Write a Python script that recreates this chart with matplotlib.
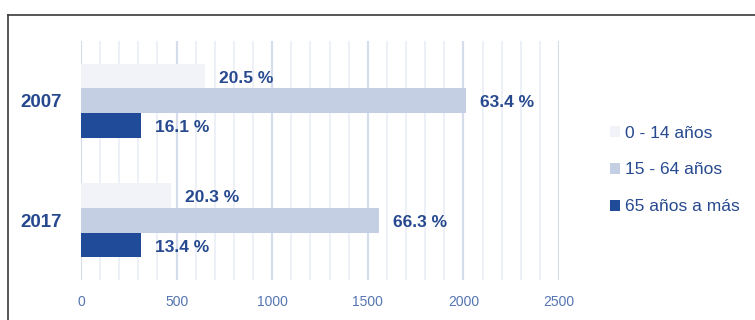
import matplotlib.pyplot as plt
from matplotlib.lines import Line2D
import numpy as np

# data
years = ["2007", "2017"]
series_names = ["0 - 14 años", "15 - 64 años", "65 años a más"]
vals_0_14 = [648, 471]
vals_15_64 = [2012, 1559]
vals_65 = [314, 314]
pct_0_14 = ["20.5 %", "20.3 %"]
pct_15_64 = ["63.4 %", "66.3 %"]
pct_65 = ["16.1 %", "13.4 %"]
xticks = [0, 500, 1000, 1500, 2000, 2500]

colors = ["#f1f3f8", "#c4cfe3", "#1f4b99"]
text_col = "#26498f"
tick_col = "#5575b2"

plt.rcParams['font.family'] = ['Liberation Sans', 'DejaVu Sans']

fig = plt.figure(figsize=(7.55, 3.2), dpi=100)
ax = fig.add_axes([81/755, 40/320, 478/755, 239/320])

# border of the box
fig.add_artist(Line2D([8/755, 8/755], [-0.1, 1-15/320], transform=fig.transFigure, color="#3a3a3a", lw=1.2))
fig.add_artist(Line2D([8/755, 1.1], [1-15/320, 1-15/320], transform=fig.transFigure, color="#3a3a3a", lw=1.2))

# grid every 100, stronger every 500
for g in range(0, 2501, 100):
    if g % 500 == 0:
        ax.axvline(g, color="#d5dcec", lw=1.6, zorder=0)
    else:
        ax.axvline(g, color="#eaedf5", lw=1.2, zorder=0)

y = np.arange(len(years))
h = 0.207
all_vals = [vals_0_14, vals_15_64, vals_65]
all_pct = [pct_0_14, pct_15_64, pct_65]
for i in range(3):
    pos = y + (i - 1) * h
    ax.barh(pos, all_vals[i], height=h, color=colors[i], label=series_names[i], zorder=2)
    for p, v, t in zip(pos, all_vals[i], all_pct[i]):
        ax.annotate(t, (v, p), xytext=(10, -1.5), textcoords="offset points",
                    ha="left", va="center", fontsize=12.5, fontweight="bold", color=text_col)

ax.set_xlim(0, 2500)
ax.set_ylim(1.5, -0.5)
ax.set_xticks(xticks)
ax.set_xticklabels([str(t) for t in xticks], color=tick_col, fontsize=10)
ax.set_yticks(y)
ax.set_yticklabels(years, fontsize=13.5, fontweight="bold", color=text_col)
ax.tick_params(axis="x", length=0, pad=11)
ax.tick_params(axis="y", length=0, pad=14)
for s in ax.spines.values():
    s.set_visible(False)

leg = fig.legend(loc="center left", bbox_to_anchor=(594/755, 1-170/320), frameon=False,
                 fontsize=12.5, handlelength=0.6, handleheight=0.6, handletextpad=0.3,
                 labelspacing=1.25, labelcolor=text_col)

plt.savefig("out.png", dpi=100)
